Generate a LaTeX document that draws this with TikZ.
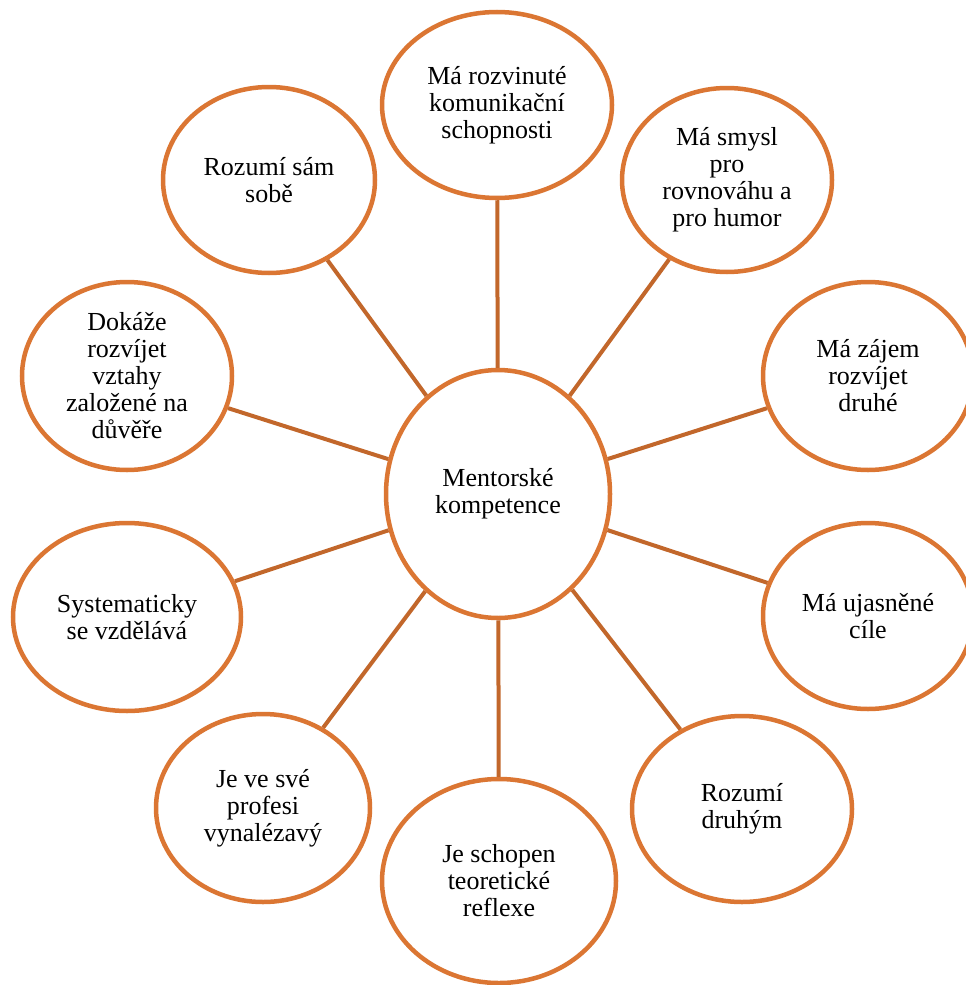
\documentclass[tikz,border=0pt]{standalone}
\usepackage{fontspec}
\setmainfont{Liberation Serif}
\usetikzlibrary{shapes.geometric}
\definecolor{rim}{HTML}{DB7633}
\definecolor{spoke}{HTML}{C2672B}
\begin{document}
\begin{tikzpicture}[x=1pt,y=-1pt,
  bubble/.style={ellipse, draw=rim, line width=4.5pt, fill=white, inner sep=0pt},
  caption/.style={align=center, font=\fontsize{26}{27}\selectfont, inner sep=0pt},
  spokeline/.style={draw=spoke, line width=4pt}]
\useasboundingbox (0,0) rectangle (966,985);
\clip (0,0) rectangle (966,985);

% hub
\node[bubble, minimum width=224pt, minimum height=248pt] (hub) at (498,494) {};

% surrounding competences
\node[bubble, minimum width=230pt, minimum height=186pt] (top)   at (497,105) {};
\node[bubble, minimum width=210pt, minimum height=184pt] (tr)    at (727,180) {};
\node[bubble, minimum width=210pt, minimum height=188pt] (rt)    at (868,376) {};
\node[bubble, minimum width=210pt, minimum height=186pt] (rb)    at (868,616) {};
\node[bubble, minimum width=220pt, minimum height=186pt] (br)    at (742,809) {};
\node[bubble, minimum width=234pt, minimum height=204pt] (bot)   at (499,881) {};
\node[bubble, minimum width=214pt, minimum height=188pt] (bl)    at (263,808) {};
\node[bubble, minimum width=228pt, minimum height=188pt] (lb)    at (127,617) {};
\node[bubble, minimum width=210pt, minimum height=188pt] (lt)    at (127,376) {};
\node[bubble, minimum width=212pt, minimum height=186pt] (tl)    at (269,180) {};

% spokes
\foreach \o in {top,tr,rt,rb,br,bot,bl,lb,lt,tl}
  \draw[spokeline] (hub) -- (\o);

% captions
\node[caption] (hub-t) at (hub) {Mentorské\\kompetence};
\node[caption] (top-t) at (top) {Má rozvinuté\\komunikační\\schopnosti};
\node[caption] (tr-t)  at (tr)  {Má smysl\\pro\\rovnováhu a\\pro humor};
\node[caption] (rt-t)  at (rt)  {Má zájem\\rozvíjet\\druhé};
\node[caption] (rb-t)  at (rb)  {Má ujasněné\\cíle};
\node[caption] (br-t)  at (br)  {Rozumí\\druhým};
\node[caption] (bot-t) at (bot) {Je schopen\\teoretické\\reflexe};
\node[caption] (bl-t)  at (bl)  {Je ve své\\profesi\\vynalézavý};
\node[caption] (lb-t)  at (lb)  {Systematicky\\se vzdělává};
\node[caption] (lt-t)  at (lt)  {Dokáže\\rozvíjet\\vztahy\\založené na\\důvěře};
\node[caption] (tl-t)  at (tl)  {Rozumí sám\\sobě};
\end{tikzpicture}
\end{document}
